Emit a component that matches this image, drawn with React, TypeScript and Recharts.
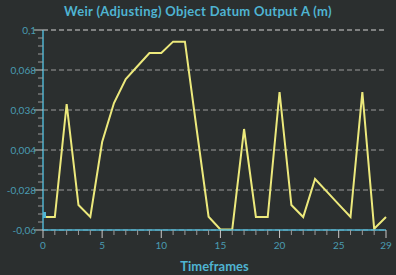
import React from "react";
import { LineChart, Line, XAxis, YAxis, ReferenceLine } from "recharts";

const FRAMES = Array.from({ length: 30 }, (_, i) => i);
const OUTPUT_A = [
  -0.0496, -0.0496, 0.0408, -0.04, -0.0496, 0.0104, 0.0416, 0.0608, 0.0712, 0.0816,
  0.0816, 0.0907, 0.0907, 0.02, -0.0494, -0.0595, -0.0595, 0.0208, -0.0496, -0.0496,
  0.0504, -0.04, -0.0496, -0.0192, -0.0293, -0.0395, -0.0496, 0.0504, -0.059, -0.0496,
];
const Y_MAJOR = [0.1, 0.068, 0.036, 0.004, -0.028, -0.06];
const X_LABELS = [0, 5, 10, 15, 20, 25, 29];

const BG = "#2b2f2f";
const CYAN = "#4fb4d2";
const LABEL = "#4a9cb2";
const FONT = "Lato, 'Open Sans', sans-serif";

const chartData = FRAMES.map((f, i) => ({ frame: f, value: OUTPUT_A[i] }));

// minor ticks: 4 between each pair of labelled values
const yTicks: number[] = [];
for (let i = 0; i < Y_MAJOR.length; i++) {
  yTicks.push(Y_MAJOR[i]);
  if (i < Y_MAJOR.length - 1) {
    for (let k = 1; k < 5; k++) yTicks.push(Y_MAJOR[i] + ((Y_MAJOR[i + 1] - Y_MAJOR[i]) * k) / 5);
  }
}

const fmt = (v: number) => String(v).replace(".", ",");

// eslint-disable-next-line @typescript-eslint/no-explicit-any
function YTick({ x, y, payload }: any) {
  const major = Y_MAJOR.some((m) => Math.abs(m - payload.value) < 1e-9);
  return (
    <g>
      <line x1={x - (major ? 9 : 5)} x2={x} y1={y} y2={y} stroke={major ? "#c8c8c8" : "#9a9a9a"} strokeWidth={1} />
      {major && (
        <text x={x - 7} y={y} dy={3.5} textAnchor="end" fill={LABEL} fontSize={10} fontFamily={FONT}>
          {fmt(payload.value)}
        </text>
      )}
    </g>
  );
}

// eslint-disable-next-line @typescript-eslint/no-explicit-any
function XTick({ x, y, payload }: any) {
  const major = X_LABELS.includes(payload.value);
  return (
    <g>
      <line x1={x} x2={x} y1={y} y2={y + (major ? 8 : 5)} stroke={major ? "#c8c8c8" : "#9a9a9a"} strokeWidth={1} />
      {major && (
        <text x={x} y={y + 19} textAnchor="middle" fill={LABEL} fontSize={10} fontFamily={FONT}>
          {payload.value}
        </text>
      )}
    </g>
  );
}

// eslint-disable-next-line @typescript-eslint/no-explicit-any
function FirstDot({ cx, cy, index }: any) {
  if (index !== 0) return <g key={index} />;
  return <rect key={index} x={cx} y={cy - 5} width={3} height={6} fill={CYAN} />;
}

export default function App() {
  return (
    <div style={{ width: 396, height: 275, background: BG, position: "relative" }}>
      <style>{`body{margin:0;background:${BG}}`}</style>
      <div
        style={{
          position: "absolute", top: 3, left: 0, width: 396, textAlign: "center",
          color: CYAN, fontFamily: FONT, fontSize: 13, fontWeight: 700, letterSpacing: 0.3,
        }}
      >
        Weir (Adjusting) Object Datum Output A (m)
      </div>
      <LineChart width={396} height={275} data={chartData} margin={{ top: 30, right: 10, left: 0, bottom: 0 }}>
        {Y_MAJOR.map((v, i) => (
          <ReferenceLine key={v} y={v} stroke={i === 0 ? "#d4d4d4" : "#9c9c9c"} strokeDasharray="5 3" strokeWidth={1.2} />
        ))}
        <XAxis
          dataKey="frame"
          type="number"
          domain={[0, 29]}
          ticks={FRAMES}
          interval={0}
          height={45}
          tickSize={0}
          tickMargin={0}
          tickLine={false}
          axisLine={{ stroke: CYAN, strokeWidth: 1.5 }}
          tick={<XTick />}
          label={{ value: "Timeframes", position: "insideBottom", offset: 4, fill: CYAN, fontSize: 13, fontWeight: 700, fontFamily: FONT }}
        />
        <YAxis
          type="number"
          domain={[-0.06, 0.1]}
          ticks={yTicks}
          interval={0}
          width={43}
          tickSize={0}
          tickMargin={0}
          tickLine={false}
          axisLine={{ stroke: CYAN, strokeWidth: 1.5 }}
          tick={<YTick />}
        />
        <Line
          type="linear"
          dataKey="value"
          stroke="#ece97c"
          strokeWidth={2}
          dot={<FirstDot />}
          activeDot={false}
          isAnimationActive={false}
        />
      </LineChart>
    </div>
  );
}
